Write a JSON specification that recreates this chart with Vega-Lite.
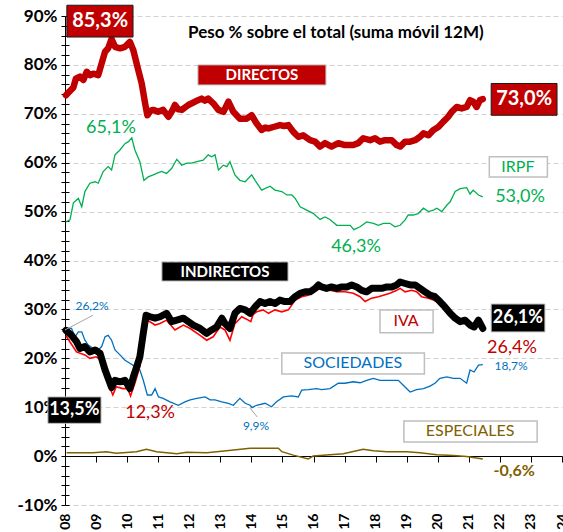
{
  "$schema": "https://vega.github.io/schema/vega-lite/v6.json",
  "width": 497,
  "height": 489,
  "autosize": {"type": "none"},
  "padding": {"left": 65, "top": 16, "right": 1, "bottom": 27},
  "background": "white",
  "config": {"view": {"stroke": null}, "font": "Lato", "text": {"font": "Lato"}},
  "datasets": {
    "D": [
      {"t":2008.03,"v":73.8},{"t":2008.15,"v":74.6},{"t":2008.27,"v":75.4},{"t":2008.35,"v":77.2},{"t":2008.48,"v":77.6},{"t":2008.59,"v":76.9},{"t":2008.70,"v":78.6},{"t":2008.80,"v":77.9},{"t":2008.91,"v":78.2},{"t":2009.07,"v":77.9},{"t":2009.18,"v":80.3},{"t":2009.29,"v":82.7},{"t":2009.39,"v":83.4},{"t":2009.50,"v":85.3},{"t":2009.61,"v":83.7},{"t":2009.77,"v":83.4},{"t":2009.93,"v":83.7},{"t":2010.09,"v":84.7},{"t":2010.20,"v":83.0},{"t":2010.36,"v":78.9},{"t":2010.47,"v":76.2},{"t":2010.58,"v":72.1},{"t":2010.65,"v":69.7},{"t":2010.75,"v":70.6},{"t":2010.84,"v":70.8},{"t":2011.00,"v":70.4},{"t":2011.16,"v":70.8},{"t":2011.33,"v":69.4},{"t":2011.45,"v":70.6},{"t":2011.54,"v":71.8},{"t":2011.65,"v":70.9},{"t":2011.76,"v":70.8},{"t":2011.97,"v":71.8},{"t":2012.19,"v":72.5},{"t":2012.40,"v":73.1},{"t":2012.50,"v":72.7},{"t":2012.61,"v":73.1},{"t":2012.78,"v":72.1},{"t":2012.94,"v":70.8},{"t":2013.10,"v":70.4},{"t":2013.26,"v":72.5},{"t":2013.42,"v":70.4},{"t":2013.63,"v":69.0},{"t":2013.85,"v":69.0},{"t":2014.01,"v":69.7},{"t":2014.17,"v":68.0},{"t":2014.33,"v":66.7},{"t":2014.45,"v":67.2},{"t":2014.55,"v":67.0},{"t":2014.71,"v":67.3},{"t":2014.92,"v":67.7},{"t":2015.05,"v":67.5},{"t":2015.19,"v":67.7},{"t":2015.35,"v":66.3},{"t":2015.51,"v":65.3},{"t":2015.67,"v":65.6},{"t":2015.89,"v":64.6},{"t":2016.05,"v":64.3},{"t":2016.21,"v":63.3},{"t":2016.37,"v":64.0},{"t":2016.58,"v":63.3},{"t":2016.80,"v":64.0},{"t":2017.01,"v":63.6},{"t":2017.28,"v":63.6},{"t":2017.44,"v":64.0},{"t":2017.60,"v":65.0},{"t":2017.82,"v":64.6},{"t":2017.98,"v":65.0},{"t":2018.14,"v":64.3},{"t":2018.30,"v":64.6},{"t":2018.52,"v":64.6},{"t":2018.68,"v":63.6},{"t":2018.79,"v":63.3},{"t":2018.95,"v":64.3},{"t":2019.11,"v":64.3},{"t":2019.27,"v":64.6},{"t":2019.43,"v":65.3},{"t":2019.54,"v":66.0},{"t":2019.70,"v":65.6},{"t":2019.86,"v":66.7},{"t":2020.02,"v":67.3},{"t":2020.18,"v":68.4},{"t":2020.34,"v":69.4},{"t":2020.45,"v":70.4},{"t":2020.61,"v":71.4},{"t":2020.77,"v":71.1},{"t":2020.93,"v":71.4},{"t":2021.04,"v":72.8},{"t":2021.14,"v":72.5},{"t":2021.25,"v":71.4},{"t":2021.36,"v":72.8},{"t":2021.45,"v":73.0}
    ],
    "I": [
      {"t":2008.03,"v":47.9},{"t":2008.16,"v":48.3},{"t":2008.27,"v":51.8},{"t":2008.43,"v":52.7},{"t":2008.54,"v":51.0},{"t":2008.64,"v":54.1},{"t":2008.80,"v":55.8},{"t":2008.97,"v":56.1},{"t":2009.07,"v":55.8},{"t":2009.23,"v":58.2},{"t":2009.39,"v":59.2},{"t":2009.50,"v":58.5},{"t":2009.61,"v":61.6},{"t":2009.77,"v":62.6},{"t":2009.93,"v":63.9},{"t":2010.04,"v":64.3},{"t":2010.15,"v":65.1},{"t":2010.25,"v":62.6},{"t":2010.41,"v":60.2},{"t":2010.54,"v":56.4},{"t":2010.68,"v":57.1},{"t":2010.84,"v":57.5},{"t":2010.95,"v":57.8},{"t":2011.11,"v":58.2},{"t":2011.27,"v":57.8},{"t":2011.43,"v":58.8},{"t":2011.60,"v":60.7},{"t":2011.76,"v":59.5},{"t":2011.92,"v":59.9},{"t":2012.08,"v":59.9},{"t":2012.24,"v":60.2},{"t":2012.45,"v":60.5},{"t":2012.61,"v":61.6},{"t":2012.72,"v":61.2},{"t":2012.83,"v":61.6},{"t":2012.94,"v":58.5},{"t":2013.10,"v":59.5},{"t":2013.21,"v":59.2},{"t":2013.31,"v":60.2},{"t":2013.47,"v":57.5},{"t":2013.63,"v":56.4},{"t":2013.80,"v":56.1},{"t":2014.01,"v":57.5},{"t":2014.12,"v":56.4},{"t":2014.33,"v":54.4},{"t":2014.60,"v":55.2},{"t":2014.76,"v":54.4},{"t":2014.98,"v":54.1},{"t":2015.14,"v":53.4},{"t":2015.30,"v":53.4},{"t":2015.41,"v":52.7},{"t":2015.57,"v":51.0},{"t":2015.78,"v":50.3},{"t":2016.00,"v":49.6},{"t":2016.21,"v":48.4},{"t":2016.37,"v":48.9},{"t":2016.53,"v":48.4},{"t":2016.75,"v":47.2},{"t":2016.96,"v":47.2},{"t":2017.18,"v":47.2},{"t":2017.30,"v":46.3},{"t":2017.50,"v":46.9},{"t":2017.71,"v":47.9},{"t":2017.93,"v":47.6},{"t":2018.09,"v":47.2},{"t":2018.25,"v":47.6},{"t":2018.46,"v":47.6},{"t":2018.62,"v":46.9},{"t":2018.79,"v":47.2},{"t":2018.95,"v":48.3},{"t":2019.05,"v":49.3},{"t":2019.21,"v":49.3},{"t":2019.37,"v":49.6},{"t":2019.54,"v":50.7},{"t":2019.70,"v":50.0},{"t":2019.86,"v":50.3},{"t":2019.97,"v":50.7},{"t":2020.13,"v":50.0},{"t":2020.29,"v":51.3},{"t":2020.40,"v":52.0},{"t":2020.56,"v":54.1},{"t":2020.72,"v":54.7},{"t":2020.93,"v":54.9},{"t":2021.04,"v":53.6},{"t":2021.14,"v":54.4},{"t":2021.31,"v":53.4},{"t":2021.45,"v":53.0}
    ],
    "N": [
      {"t":2008.03,"v":25.7},{"t":2008.21,"v":24.7},{"t":2008.37,"v":23.4},{"t":2008.48,"v":22.0},{"t":2008.64,"v":22.4},{"t":2008.80,"v":21.3},{"t":2008.97,"v":21.7},{"t":2009.13,"v":21.0},{"t":2009.29,"v":17.6},{"t":2009.39,"v":15.9},{"t":2009.50,"v":14.0},{"t":2009.61,"v":15.5},{"t":2009.77,"v":15.2},{"t":2009.93,"v":15.5},{"t":2010.09,"v":13.8},{"t":2010.20,"v":16.2},{"t":2010.31,"v":18.3},{"t":2010.41,"v":20.3},{"t":2010.52,"v":25.1},{"t":2010.61,"v":28.8},{"t":2010.74,"v":28.5},{"t":2010.90,"v":28.2},{"t":2011.06,"v":28.5},{"t":2011.27,"v":29.2},{"t":2011.43,"v":27.5},{"t":2011.60,"v":27.8},{"t":2011.81,"v":28.2},{"t":2011.97,"v":27.5},{"t":2012.13,"v":26.8},{"t":2012.35,"v":26.1},{"t":2012.56,"v":25.1},{"t":2012.72,"v":25.8},{"t":2012.88,"v":26.4},{"t":2013.05,"v":28.2},{"t":2013.15,"v":27.1},{"t":2013.31,"v":26.1},{"t":2013.47,"v":29.2},{"t":2013.63,"v":30.2},{"t":2013.80,"v":29.9},{"t":2013.96,"v":29.2},{"t":2014.12,"v":30.5},{"t":2014.28,"v":31.6},{"t":2014.44,"v":31.2},{"t":2014.60,"v":31.6},{"t":2014.76,"v":31.2},{"t":2014.92,"v":31.9},{"t":2015.08,"v":31.6},{"t":2015.24,"v":31.6},{"t":2015.41,"v":32.6},{"t":2015.57,"v":33.3},{"t":2015.73,"v":33.6},{"t":2015.89,"v":33.6},{"t":2016.05,"v":34.3},{"t":2016.16,"v":35.0},{"t":2016.26,"v":34.6},{"t":2016.42,"v":34.3},{"t":2016.58,"v":34.6},{"t":2016.75,"v":34.3},{"t":2016.91,"v":34.6},{"t":2017.07,"v":34.6},{"t":2017.23,"v":35.0},{"t":2017.39,"v":34.6},{"t":2017.55,"v":33.9},{"t":2017.71,"v":33.6},{"t":2017.87,"v":34.3},{"t":2018.04,"v":34.3},{"t":2018.20,"v":34.3},{"t":2018.36,"v":34.6},{"t":2018.52,"v":34.6},{"t":2018.68,"v":35.0},{"t":2018.79,"v":35.6},{"t":2018.95,"v":35.3},{"t":2019.11,"v":35.0},{"t":2019.27,"v":35.0},{"t":2019.43,"v":34.3},{"t":2019.59,"v":33.6},{"t":2019.75,"v":32.9},{"t":2019.91,"v":32.6},{"t":2020.07,"v":31.6},{"t":2020.23,"v":30.5},{"t":2020.40,"v":29.2},{"t":2020.56,"v":28.2},{"t":2020.72,"v":27.5},{"t":2020.88,"v":27.8},{"t":2021.04,"v":26.8},{"t":2021.17,"v":26.4},{"t":2021.31,"v":27.8},{"t":2021.45,"v":26.1}
    ],
    "V": [
      {"t":2008.03,"v":24.6},{"t":2008.37,"v":21.3},{"t":2008.64,"v":20.7},{"t":2008.80,"v":20.0},{"t":2009.00,"v":20.3},{"t":2009.18,"v":19.6},{"t":2009.34,"v":15.5},{"t":2009.54,"v":12.5},{"t":2009.65,"v":14.2},{"t":2009.86,"v":13.8},{"t":2010.02,"v":13.8},{"t":2010.11,"v":12.3},{"t":2010.25,"v":14.9},{"t":2010.41,"v":18.3},{"t":2010.57,"v":26.4},{"t":2010.65,"v":27.8},{"t":2010.90,"v":26.8},{"t":2011.06,"v":27.1},{"t":2011.27,"v":27.8},{"t":2011.54,"v":25.8},{"t":2011.81,"v":26.8},{"t":2012.03,"v":26.1},{"t":2012.35,"v":24.7},{"t":2012.56,"v":23.7},{"t":2012.77,"v":24.4},{"t":2012.99,"v":26.4},{"t":2013.15,"v":25.8},{"t":2013.31,"v":23.7},{"t":2013.47,"v":27.1},{"t":2013.69,"v":28.5},{"t":2013.90,"v":27.8},{"t":2013.98,"v":27.5},{"t":2014.06,"v":29.0},{"t":2014.17,"v":29.5},{"t":2014.38,"v":29.9},{"t":2014.55,"v":29.2},{"t":2014.76,"v":29.9},{"t":2014.98,"v":29.5},{"t":2015.19,"v":29.9},{"t":2015.41,"v":31.9},{"t":2015.62,"v":32.6},{"t":2015.83,"v":32.9},{"t":2016.10,"v":33.9},{"t":2016.26,"v":34.3},{"t":2016.53,"v":33.9},{"t":2016.75,"v":33.6},{"t":2017.01,"v":33.6},{"t":2017.28,"v":33.3},{"t":2017.50,"v":32.6},{"t":2017.66,"v":31.6},{"t":2017.87,"v":32.3},{"t":2018.09,"v":32.6},{"t":2018.25,"v":32.9},{"t":2018.46,"v":33.3},{"t":2018.68,"v":33.9},{"t":2018.79,"v":34.3},{"t":2018.95,"v":33.6},{"t":2019.16,"v":33.9},{"t":2019.32,"v":33.6},{"t":2019.48,"v":32.6},{"t":2019.70,"v":32.3},{"t":2019.86,"v":31.9},{"t":2020.07,"v":31.3},{"t":2020.23,"v":30.3},{"t":2020.40,"v":29.0},{"t":2020.56,"v":28.0},{"t":2020.72,"v":27.4},{"t":2020.88,"v":27.7},{"t":2021.04,"v":26.8},{"t":2021.17,"v":26.5},{"t":2021.31,"v":27.6},{"t":2021.45,"v":26.4}
    ],
    "S": [
      {"t":2008.03,"v":26.2},{"t":2008.21,"v":26.1},{"t":2008.32,"v":24.4},{"t":2008.43,"v":25.4},{"t":2008.54,"v":25.4},{"t":2008.64,"v":23.7},{"t":2008.75,"v":22.7},{"t":2008.91,"v":22.0},{"t":2009.07,"v":21.7},{"t":2009.18,"v":22.4},{"t":2009.29,"v":24.4},{"t":2009.39,"v":24.7},{"t":2009.50,"v":23.7},{"t":2009.61,"v":21.7},{"t":2009.77,"v":20.7},{"t":2009.93,"v":19.6},{"t":2010.09,"v":19.0},{"t":2010.25,"v":18.3},{"t":2010.41,"v":17.6},{"t":2010.52,"v":15.5},{"t":2010.65,"v":12.5},{"t":2010.79,"v":12.5},{"t":2010.90,"v":13.8},{"t":2011.01,"v":12.1},{"t":2011.16,"v":11.8},{"t":2011.38,"v":11.1},{"t":2011.65,"v":10.4},{"t":2011.86,"v":11.1},{"t":2012.03,"v":11.5},{"t":2012.24,"v":11.8},{"t":2012.51,"v":12.1},{"t":2012.67,"v":11.5},{"t":2012.83,"v":11.5},{"t":2013.05,"v":11.1},{"t":2013.26,"v":10.8},{"t":2013.42,"v":10.4},{"t":2013.63,"v":11.8},{"t":2013.80,"v":10.8},{"t":2013.96,"v":10.4},{"t":2014.02,"v":9.9},{"t":2014.17,"v":10.4},{"t":2014.44,"v":10.8},{"t":2014.65,"v":10.1},{"t":2014.81,"v":11.1},{"t":2015.03,"v":12.1},{"t":2015.30,"v":12.3},{"t":2015.51,"v":12.1},{"t":2015.62,"v":13.5},{"t":2015.83,"v":13.6},{"t":2016.10,"v":13.8},{"t":2016.26,"v":13.6},{"t":2016.53,"v":13.8},{"t":2016.80,"v":14.9},{"t":2017.01,"v":14.9},{"t":2017.28,"v":15.2},{"t":2017.50,"v":15.0},{"t":2017.71,"v":15.5},{"t":2017.93,"v":15.9},{"t":2018.14,"v":15.5},{"t":2018.36,"v":15.5},{"t":2018.57,"v":15.5},{"t":2018.73,"v":15.5},{"t":2018.89,"v":14.5},{"t":2019.11,"v":13.1},{"t":2019.32,"v":13.6},{"t":2019.54,"v":13.8},{"t":2019.75,"v":14.3},{"t":2019.91,"v":14.9},{"t":2020.07,"v":15.9},{"t":2020.29,"v":16.2},{"t":2020.50,"v":15.9},{"t":2020.72,"v":15.9},{"t":2020.93,"v":14.9},{"t":2021.04,"v":17.6},{"t":2021.17,"v":17.2},{"t":2021.31,"v":18.6},{"t":2021.45,"v":18.7}
    ],
    "E": [
      {"t":2008.05,"v":0.7},{"t":2008.48,"v":0.7},{"t":2008.90,"v":0.7},{"t":2009.33,"v":0.9},{"t":2009.65,"v":0.6},{"t":2010.30,"v":0.9},{"t":2010.62,"v":1.4},{"t":2010.95,"v":0.9},{"t":2011.60,"v":0.5},{"t":2011.92,"v":0.8},{"t":2012.56,"v":0.7},{"t":2013.20,"v":1.1},{"t":2013.96,"v":1.6},{"t":2014.39,"v":1.6},{"t":2014.87,"v":1.6},{"t":2014.98,"v":0.9},{"t":2015.35,"v":0.2},{"t":2015.83,"v":-0.6},{"t":2015.99,"v":0.0},{"t":2016.42,"v":0.2},{"t":2016.96,"v":0.5},{"t":2017.60,"v":1.4},{"t":2017.93,"v":1.1},{"t":2018.36,"v":0.9},{"t":2019.00,"v":0.9},{"t":2019.43,"v":0.7},{"t":2019.97,"v":0.3},{"t":2020.50,"v":0.1},{"t":2020.93,"v":-0.1},{"t":2021.45,"v":-0.6}
    ]
  },
  "encoding": {
    "x": {"field": "t", "type": "quantitative", "scale": {"domain": [2008, 2024], "nice": false, "zero": false},
      "axis": {"orient": "bottom", "offset": -49, "values": [2008,2009,2010,2011,2012,2013,2014,2015,2016,2017,2018,2019,2020,2021,2022,2023,2024],
        "labelExpr": "substring(toString(datum.value), 2)", "labelAngle": -90, "labelAlign": "right", "labelBaseline": "middle",
        "labelFont": "Lato", "labelFontSize": 14, "labelFontWeight": "bold", "labelColor": "black", "labelPadding": 51,
        "tickSize": 6, "tickColor": "black", "domainColor": "black", "grid": false, "title": null, "labelOverlap": false, "labelFlush": false}}
  },
  "layer": [
    {
      "encoding": {
        "y": {"field": "v", "type": "quantitative", "scale": {"domain": [-10, 90], "nice": false, "zero": false},
          "axis": {"values": [-10,-8,-6,-4,-2,0,2,4,6,8,10,12,14,16,18,20,22,24,26,28,30,32,34,36,38,40,42,44,46,48,50,52,54,56,58,60,62,64,66,68,70,72,74,76,78,80,82,84,86,88,90],
            "labelExpr": "datum.value % 10 === 0 ? datum.value + '%' : ''", "labelFont": "Lato", "labelFontSize": 17, "labelFontWeight": "bold", "labelColor": "black",
            "labelPadding": 4, "tickSize": 4, "tickColor": "black", "domainColor": "black", "grid": true, "gridDash": [5, 3], "gridColor": "#d0d0d0",
            "gridOpacity": {"condition": {"test": "datum.value % 10 === 0", "value": 1}, "value": 0}, "title": null, "labelOverlap": false}}
      },
      "layer": [
        {"data": {"name": "E"}, "mark": {"type": "line", "color": "#7F6000", "strokeWidth": 1.5}},
        {"data": {"name": "S"}, "mark": {"type": "line", "color": "#0070C0", "strokeWidth": 1.3}},
        {"data": {"name": "I"}, "mark": {"type": "line", "color": "#00B050", "strokeWidth": 1.3}},
        {"data": {"name": "V"}, "mark": {"type": "line", "color": "#FF0000", "strokeWidth": 1.6}},
        {"data": {"name": "N"}, "mark": {"type": "line", "color": "#000000", "strokeWidth": 7, "strokeJoin": "round", "strokeCap": "round"}},
        {"data": {"name": "D"}, "mark": {"type": "line", "color": "#C00000", "strokeWidth": 6.5, "strokeJoin": "round", "strokeCap": "round"}},
        {"data": {"values": [
            {"t": 2008.0, "t2": 2008.9, "v": 25.8, "v2": 28.8},
            {"t": 2013.96, "t2": 2014.19, "v": 9.8, "v2": 8.0}]},
         "mark": {"type": "rule", "color": "#a6a6a6", "strokeWidth": 1},
         "encoding": {"x2": {"field": "t2"}, "y2": {"field": "v2"}}},
        {"data": {"values": [
            {"t": 2008.06, "t2": 2010.19, "v": 92.2, "v2": 85.7},
            {"t": 2021.72, "t2": 2023.84, "v": 76.2, "v2": 69.7}]},
         "mark": {"type": "rect", "fill": "#C00000", "stroke": "#1a1a1a", "strokeWidth": 1},
         "encoding": {"x2": {"field": "t2"}, "y2": {"field": "v2"}}},
        {"data": {"values": [
            {"t": 2012.28, "t2": 2016.40, "v": 80.0, "v2": 75.9}]},
         "mark": {"type": "rect", "fill": "#C00000", "stroke": "#bfbfbf", "strokeWidth": 1},
         "encoding": {"x2": {"field": "t2"}, "y2": {"field": "v2"}}},
        {"data": {"values": [
            {"t": 2011.12, "t2": 2015.18, "v": 39.7, "v2": 35.8},
            {"t": 2007.45, "t2": 2009.16, "v": 12.1, "v2": 6.7},
            {"t": 2021.72, "t2": 2023.45, "v": 31.1, "v2": 25.4}]},
         "mark": {"type": "rect", "fill": "#000000", "stroke": "#bfbfbf", "strokeWidth": 1},
         "encoding": {"x2": {"field": "t2"}, "y2": {"field": "v2"}}},
        {"data": {"values": [
            {"t": 2021.66, "t2": 2023.53, "v": 61.2, "v2": 57.1},
            {"t": 2018.14, "t2": 2019.85, "v": 29.9, "v2": 25.2},
            {"t": 2014.98, "t2": 2019.57, "v": 21.1, "v2": 16.8},
            {"t": 2018.91, "t2": 2023.20, "v": 7.2, "v2": 2.9}]},
         "mark": {"type": "rect", "fill": "#ffffff", "stroke": "#bfbfbf", "strokeWidth": 1.5},
         "encoding": {"x2": {"field": "t2"}, "y2": {"field": "v2"}}},
        {"data": {"values": [{"t": 2016.72, "v": 86.5, "label": "Peso % sobre el total (suma móvil 12M)"}]},
         "mark": {"type": "text", "font": "Lato", "fontSize": 17, "fontWeight": "bold", "color": "#000000", "align": "center", "baseline": "middle"},
         "encoding": {"text": {"field": "label"}}},
        {"data": {"values": [
            {"t": 2009.13, "v": 89.0, "label": "85,3%"},
            {"t": 2022.78, "v": 73.0, "label": "73,0%"}]},
         "mark": {"type": "text", "font": "Lato", "fontSize": 20, "fontWeight": "bold", "color": "#ffffff", "align": "center", "baseline": "middle"},
         "encoding": {"text": {"field": "label"}}},
        {"data": {"values": [
            {"t": 2022.58, "v": 28.2, "label": "26,1%"},
            {"t": 2008.30, "v": 9.4, "label": "13,5%"}]},
         "mark": {"type": "text", "font": "Lato", "fontSize": 18, "fontWeight": "bold", "color": "#ffffff", "align": "center", "baseline": "middle"},
         "encoding": {"text": {"field": "label"}}},
        {"data": {"values": [
            {"t": 2014.34, "v": 77.9, "label": "DIRECTOS"},
            {"t": 2013.15, "v": 37.7, "label": "INDIRECTOS"}]},
         "mark": {"type": "text", "font": "Lato", "fontSize": 15, "fontWeight": "bold", "color": "#ffffff", "align": "center", "baseline": "middle"},
         "encoding": {"text": {"field": "label"}}},
        {"data": {"values": [
            {"t": 2022.58, "v": 59.1, "label": "IRPF", "s": "IRPF"},
            {"t": 2018.98, "v": 27.6, "label": "IVA", "s": "IVA"},
            {"t": 2017.27, "v": 19.0, "label": "SOCIEDADES", "s": "SOCIEDADES"},
            {"t": 2021.04, "v": 5.1, "label": "ESPECIALES", "s": "ESPECIALES"}]},
         "mark": {"type": "text", "font": "Lato", "fontSize": 16, "align": "center", "baseline": "middle"},
         "encoding": {"text": {"field": "label"}, "color": {"field": "s", "type": "nominal", "legend": null,
           "scale": {"domain": ["DIRECTOS","IRPF","INDIRECTOS","IVA","SOCIEDADES","ESPECIALES"], "range": ["#C00000","#00B050","#000000","#C00000","#0070C0","#7F6000"]}}}},
        {"data": {"values": [
            {"t": 2009.48, "v": 67.1, "label": "65,1%", "s": "IRPF"},
            {"t": 2017.37, "v": 42.7, "label": "46,3%", "s": "IRPF"},
            {"t": 2022.65, "v": 53.0, "label": "53,0%", "s": "IRPF"},
            {"t": 2010.74, "v": 8.8, "label": "12,3%", "s": "IVA"},
            {"t": 2022.39, "v": 22.1, "label": "26,4%", "s": "IVA"}]},
         "mark": {"type": "text", "font": "Lato", "fontSize": 18, "align": "center", "baseline": "middle"},
         "encoding": {"text": {"field": "label"}, "color": {"field": "s", "type": "nominal", "legend": null}}},
        {"data": {"values": [
            {"t": 2008.87, "v": 30.7, "label": "26,2%", "s": "SOCIEDADES"},
            {"t": 2014.15, "v": 6.1, "label": "9,9%", "s": "SOCIEDADES"},
            {"t": 2022.36, "v": 18.4, "label": "18,7%", "s": "SOCIEDADES"}]},
         "mark": {"type": "text", "font": "Lato", "fontSize": 12, "align": "center", "baseline": "middle"},
         "encoding": {"text": {"field": "label"}, "color": {"field": "s", "type": "nominal", "legend": null}}},
        {"data": {"values": [
            {"t": 2022.46, "v": -3.1, "label": "-0,6%", "s": "ESPECIALES"}]},
         "mark": {"type": "text", "font": "Lato", "fontSize": 16, "fontWeight": "bold", "align": "center", "baseline": "middle"},
         "encoding": {"text": {"field": "label"}, "color": {"field": "s", "type": "nominal", "legend": null}}}
      ]
    },
    {
      "data": {"name": "E"},
      "mark": {"type": "line", "opacity": 0},
      "encoding": {
        "y": {"field": "v", "type": "quantitative", "scale": {"domain": [-10, 90], "nice": false, "zero": false},
          "axis": {"orient": "right", "offset": -497, "values": [-10,-8,-6,-4,-2,0,2,4,6,8,10,12,14,16,18,20,22,24,26,28,30,32,34,36,38,40,42,44,46,48,50,52,54,56,58,60,62,64,66,68,70,72,74,76,78,80,82,84,86,88,90],
            "labels": false, "domain": false, "grid": false, "tickSize": 4, "tickColor": "black", "title": null}}
      }
    }
  ],
  "resolve": {"axis": {"y": "independent"}}
}
